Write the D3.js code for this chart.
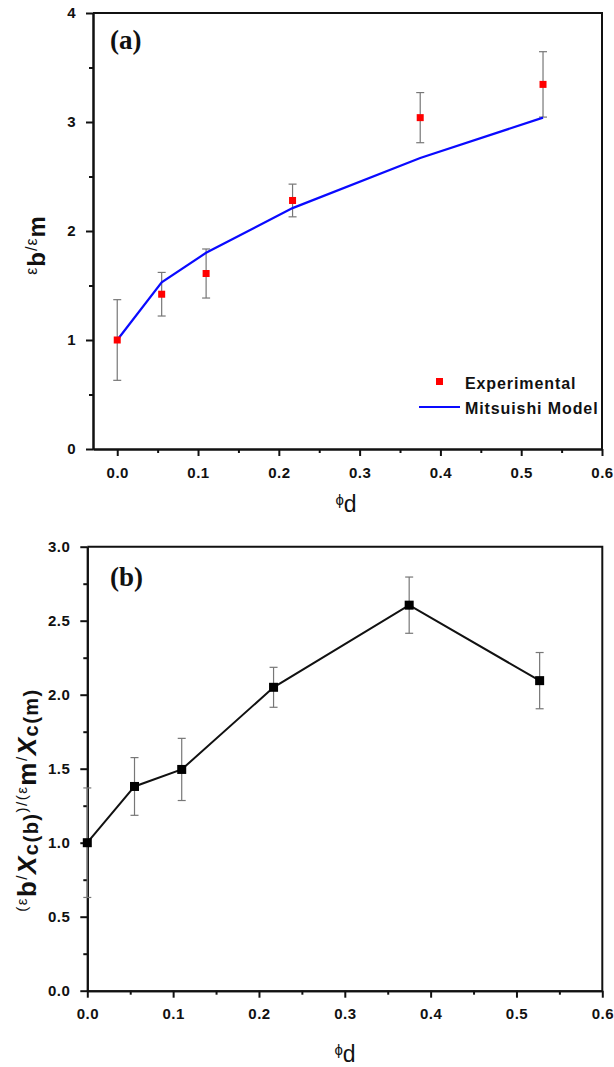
<!DOCTYPE html>
<html>
<head>
<meta charset="utf-8">
<script src="https://cdn.jsdelivr.net/npm/d3@7"></script>
<style>
  body { margin: 0; background: #fff; }
  .tick text { font-family: "Liberation Sans", Arial, sans-serif; font-weight: bold; font-size: 15px; letter-spacing: 0.5px; fill: #111; }
  .axis path, .axis line { stroke: #111; stroke-width: 2; }
</style>
</head>
<body>
<div class="viz"></div>
<script>
// volume fraction of dispersed phase
var phi = [0, 0.055, 0.11, 0.217, 0.375, 0.527];

// panel (a)
var expA = [1.0, 1.42, 1.61, 2.28, 3.04, 3.345];
var errA = [0.37, 0.2, 0.225, 0.15, 0.23, 0.3];
var modelA = [1.0, 1.53, 1.80, 2.21, 2.67, 3.04];

// panel (b)
var ratioB = [1.0, 1.38, 1.495, 2.05, 2.605, 2.095];
var errB = [0.37, 0.195, 0.21, 0.135, 0.19, 0.19];

var xTicks = [0, 0.1, 0.2, 0.3, 0.4, 0.5, 0.6];
var yTicksA = [0, 1, 2, 3, 4];
var yTicksB = [0, 0.5, 1.0, 1.5, 2.0, 2.5, 3.0];

var w = 614;
var h = 1067;
var font = '"Liberation Sans", Arial, sans-serif';

var svg = d3.select(".viz")
    .append("svg")
    .attr("width", w)
    .attr("height", h);

var dataA = phi.map(function(p, i) {
    return { x: p, y: expA[i], e: errA[i], m: modelA[i] };
});
var dataB = phi.map(function(p, i) {
    return { x: p, y: ratioB[i], e: errB[i] };
});

//// helper to draw one framed panel ////
function drawFrame(xScale, yScale, xMinor, yMinor, yFmt, ymaxTicks) {
    var g = svg.append("g");
    var x0 = xScale.range()[0], x1 = xScale.range()[1];
    var y0 = yScale.range()[0], y1 = yScale.range()[1];

    g.append("g")
        .attr("class", "axis")
        .attr("transform", "translate(0," + y0 + ")")
        .call(d3.axisBottom(xScale).tickValues(xMinor).tickSize(4).tickSizeOuter(0).tickFormat(""));
    g.append("g")
        .attr("class", "axis")
        .attr("transform", "translate(0," + y0 + ")")
        .call(d3.axisBottom(xScale).tickValues(xTicks).tickSize(7).tickPadding(11).tickSizeOuter(0)
            .tickFormat(d3.format(".1f")));

    g.append("g")
        .attr("class", "axis")
        .attr("transform", "translate(" + x0 + ",0)")
        .call(d3.axisLeft(yScale).tickValues(yMinor).tickSize(4).tickSizeOuter(0).tickFormat(""));
    g.append("g")
        .attr("class", "axis")
        .attr("transform", "translate(" + x0 + ",0)")
        .call(d3.axisLeft(yScale).tickValues(ymaxTicks).tickSize(7).tickPadding(10).tickSizeOuter(0)
            .tickFormat(yFmt));

    // top and right border
    g.append("path")
        .attr("d", "M" + x0 + "," + y1 + "H" + x1 + "V" + y0)
        .attr("fill", "none")
        .attr("stroke", "#111")
        .attr("stroke-width", 2);
}

function errorBars(data, xScale, yScale) {
    var eb = svg.append("g")
        .attr("stroke", "#777")
        .attr("stroke-width", 1.2);
    data.forEach(function(d) {
        var cx = xScale(d.x);
        eb.append("line")
            .attr("x1", cx).attr("x2", cx)
            .attr("y1", yScale(d.y - d.e)).attr("y2", yScale(d.y + d.e));
        [d.y - d.e, d.y + d.e].forEach(function(v) {
            eb.append("line")
                .attr("x1", cx - 4).attr("x2", cx + 4)
                .attr("y1", yScale(v)).attr("y2", yScale(v));
        });
    });
}

function phiLabel(cx, by) {
    var t = svg.append("text")
        .attr("x", cx)
        .attr("y", by)
        .attr("text-anchor", "middle")
        .attr("font-family", font)
        .attr("fill", "#111");
    t.append("tspan").attr("font-size", "15px").attr("dy", -7).text("\u03d5");
    t.append("tspan").attr("font-size", "23px").attr("dy", 7).text("d");
}

////////// PANEL (a) //////////
var xA = d3.scaleLinear().domain([-0.03, 0.6]).range([93, 602]);
var yA = d3.scaleLinear().domain([0, 4]).range([449, 13]);

drawFrame(xA, yA, d3.range(0, 0.6, 0.05).filter(function(v, i) { return i % 2 == 1; }),
    [0.5, 1.5, 2.5, 3.5], d3.format("d"), yTicksA);

errorBars(dataA, xA, yA);

var modelLine = d3.line()
    .x(function(d) { return xA(d.x); })
    .y(function(d) { return yA(d.m); });

svg.append("path")
    .datum(dataA)
    .attr("d", modelLine)
    .attr("fill", "none")
    .attr("stroke", "#0a0aff")
    .attr("stroke-width", 2.2);

svg.append("g")
    .selectAll("rect")
    .data(dataA)
    .enter()
    .append("rect")
    .attr("x", function(d) { return xA(d.x) - 3.5; })
    .attr("y", function(d) { return yA(d.y) - 3.5; })
    .attr("width", 7)
    .attr("height", 7)
    .attr("fill", "#ff0000");

// legend
svg.append("rect")
    .attr("x", 436).attr("y", 378)
    .attr("width", 7).attr("height", 7)
    .attr("fill", "#ff0000");
svg.append("line")
    .attr("x1", 419).attr("x2", 460)
    .attr("y1", 407).attr("y2", 407)
    .attr("stroke", "#0a0aff")
    .attr("stroke-width", 2);
svg.append("text")
    .attr("x", 465).attr("y", 389)
    .attr("font-family", font).attr("font-weight", "bold")
    .attr("font-size", "16px").attr("letter-spacing", "0.9px")
    .attr("fill", "#111")
    .text("Experimental");
svg.append("text")
    .attr("x", 465).attr("y", 414)
    .attr("font-family", font).attr("font-weight", "bold")
    .attr("font-size", "16px").attr("letter-spacing", "0.9px")
    .attr("fill", "#111")
    .text("Mitsuishi Model");

svg.append("text")
    .attr("x", 110).attr("y", 49)
    .attr("font-family", '"Liberation Serif", "Times New Roman", serif')
    .attr("font-weight", "bold")
    .attr("font-size", "27px")
    .attr("fill", "#111")
    .text("(a)");

// y label (a)
var ylA = svg.append("text")
    .attr("transform", "translate(45,245) rotate(-90)")
    .attr("text-anchor", "middle")
    .attr("font-family", font)
    .attr("letter-spacing", "1px")
    .attr("fill", "#111");
ylA.append("tspan").attr("font-size", "16px").attr("dy", -8).text("\u03b5");
ylA.append("tspan").attr("font-size", "24px").attr("font-weight", "bold").attr("dy", 8).text("b");
ylA.append("tspan").attr("font-size", "16px").attr("dy", -8).text("/\u03b5");
ylA.append("tspan").attr("font-size", "24px").attr("font-weight", "bold").attr("dy", 8).text("m");

phiLabel(346, 512);

////////// PANEL (b) //////////
var xB = d3.scaleLinear().domain([0, 0.6]).range([87.3, 602.3]);
var yB = d3.scaleLinear().domain([0, 3]).range([990.7, 546.7]);

drawFrame(xB, yB, [0.05, 0.15, 0.25, 0.35, 0.45, 0.55],
    [0.25, 0.75, 1.25, 1.75, 2.25, 2.75], d3.format(".1f"), yTicksB);

errorBars(dataB, xB, yB);

var ratioLine = d3.line()
    .x(function(d) { return xB(d.x); })
    .y(function(d) { return yB(d.y); });

svg.append("path")
    .datum(dataB)
    .attr("d", ratioLine)
    .attr("fill", "none")
    .attr("stroke", "#111")
    .attr("stroke-width", 2);

svg.append("g")
    .selectAll("rect")
    .data(dataB)
    .enter()
    .append("rect")
    .attr("x", function(d) { return xB(d.x) - 4.5; })
    .attr("y", function(d) { return yB(d.y) - 4.5; })
    .attr("width", 9)
    .attr("height", 9)
    .attr("fill", "#000");

svg.append("text")
    .attr("x", 110).attr("y", 586)
    .attr("font-family", '"Liberation Serif", "Times New Roman", serif')
    .attr("font-weight", "bold")
    .attr("font-size", "27px")
    .attr("fill", "#111")
    .text("(b)");

// y label (b)
var ylB = svg.append("text")
    .attr("transform", "translate(36,800) rotate(-90)")
    .attr("text-anchor", "middle")
    .attr("font-family", font)
    .attr("letter-spacing", "1.5px")
    .attr("fill", "#111");
ylB.append("tspan").attr("font-size", "15px").attr("dy", -9).text("(\u03b5");
ylB.append("tspan").attr("font-size", "26px").attr("font-weight", "bold").attr("dy", 9).text("b");
ylB.append("tspan").attr("font-size", "15px").attr("dy", -9).text("/");
ylB.append("tspan").attr("font-size", "26px").attr("font-weight", "bold").attr("font-style", "italic").attr("dy", 9).text("X");
ylB.append("tspan").attr("font-size", "20px").attr("font-weight", "bold").attr("dy", 2).text("c(b)");
ylB.append("tspan").attr("font-size", "15px").attr("dy", -11).text(")/(\u03b5");
ylB.append("tspan").attr("font-size", "26px").attr("font-weight", "bold").attr("dy", 9).text("m");
ylB.append("tspan").attr("font-size", "15px").attr("dy", -9).text("/");
ylB.append("tspan").attr("font-size", "26px").attr("font-weight", "bold").attr("font-style", "italic").attr("dy", 9).text("X");
ylB.append("tspan").attr("font-size", "20px").attr("font-weight", "bold").attr("dy", 2).text("c(m)");

phiLabel(345, 1062);
</script>
</body>
</html>
